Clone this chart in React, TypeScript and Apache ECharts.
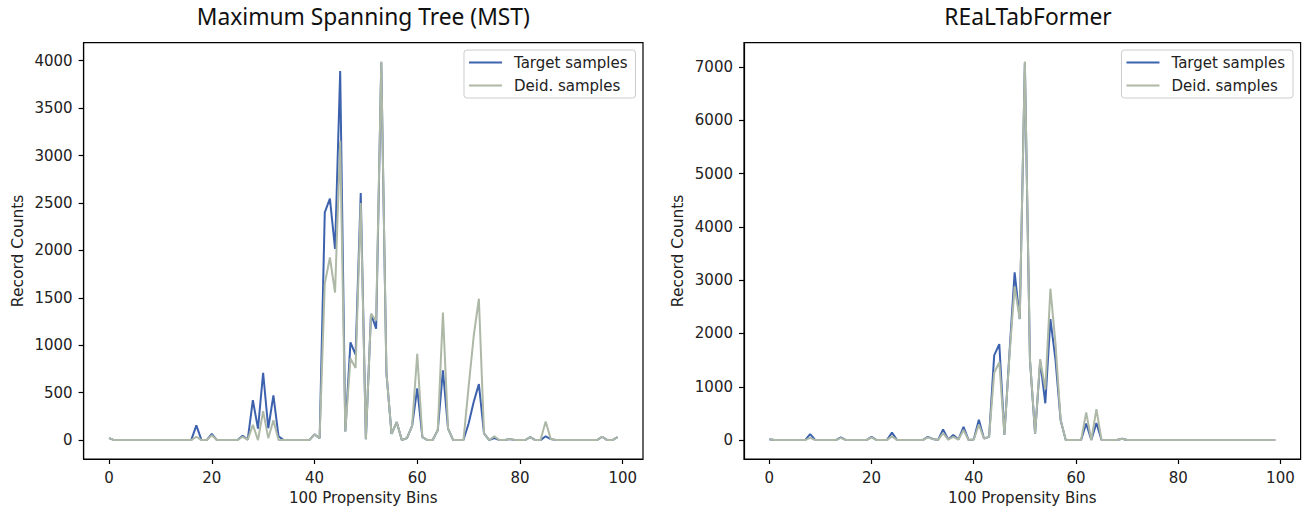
import React, { useEffect, useRef } from "react";
import * as echarts from "echarts";

// 100 propensity bins (0..99)
const BINS: number[] = Array.from({ length: 100 }, (_, i) => i);

const X_TICKS = [0, 20, 40, 60, 80, 100];
const MST_Y_TICKS = [0, 500, 1000, 1500, 2000, 2500, 3000, 3500, 4000];
const RTF_Y_TICKS = [0, 1000, 2000, 3000, 4000, 5000, 6000, 7000];

const TITLES = ["Maximum Spanning Tree (MST)", "REaLTabFormer"];
const SERIES_NAMES = ["Target samples", "Deid. samples"];

// Maximum Spanning Tree (MST) — bins 0..99
const MST_TARGET = [
  20, 0, 0, 0, 0, 0, 0, 0, 0, 0,
  0, 0, 0, 0, 0, 0, 0, 155, 0, 0,
  65, 0, 0, 0, 0, 0, 45, 5, 420, 120,
  710, 125, 470, 40, 0, 0, 0, 0, 0, 0,
  60, 20, 2400, 2545, 2015, 3890, 90, 1030, 900, 2605,
  10, 1330, 1175, 3980, 710, 65, 190, 0, 20, 150,
  545, 30, 0, 0, 105, 735, 120, 0, 0, 0,
  175, 405, 590, 70, 0, 20, 0, 0, 10, 0,
  0, 0, 30, 0, 0, 40, 10, 0, 0, 0,
  0, 0, 0, 0, 0, 0, 35, 0, 0, 30,
];
const MST_DEID = [
  20, 0, 0, 0, 0, 0, 0, 0, 0, 0,
  0, 0, 0, 0, 0, 0, 0, 35, 0, 0,
  50, 0, 0, 0, 0, 0, 35, 5, 160, 0,
  305, 20, 210, 0, 0, 0, 0, 0, 0, 0,
  60, 20, 1650, 1925, 1555, 3155, 90, 860, 760, 2500,
  10, 1330, 1260, 3990, 710, 65, 190, 0, 20, 150,
  910, 30, 0, 0, 105, 1345, 120, 0, 0, 0,
  560, 1100, 1490, 70, 0, 40, 0, 0, 10, 0,
  0, 0, 30, 0, 0, 195, 10, 0, 0, 0,
  0, 0, 0, 0, 0, 0, 35, 0, 0, 30,
];

// REaLTabFormer — bins 0..99
const RTF_TARGET = [
  15, 0, 0, 0, 0, 0, 0, 0, 110, 0,
  0, 0, 0, 0, 50, 0, 0, 0, 0, 0,
  60, 0, 0, 0, 140, 0, 0, 0, 0, 0,
  0, 60, 20, 0, 200, 10, 95, 10, 250, 0,
  10, 380, 30, 60, 1590, 1800, 100, 1650, 3145, 2270,
  7080, 1500, 120, 1480, 690, 2270, 1500, 370, 0, 0,
  0, 0, 310, 0, 320, 0, 0, 0, 0, 25,
  0, 0, 0, 0, 0, 0, 0, 0, 0, 0,
  0, 0, 0, 0, 0, 0, 0, 0, 0, 0,
  0, 0, 0, 0, 0, 0, 0, 0, 0, 0,
];
const RTF_DEID = [
  15, 0, 0, 0, 0, 0, 0, 0, 40, 0,
  0, 0, 0, 0, 40, 0, 0, 0, 0, 0,
  50, 0, 0, 0, 70, 0, 0, 0, 0, 0,
  0, 50, 20, 0, 130, 10, 60, 10, 190, 0,
  10, 290, 30, 60, 1260, 1460, 100, 1600, 2880, 2270,
  7100, 1520, 120, 1520, 950, 2840, 1800, 380, 0, 0,
  0, 0, 520, 0, 580, 0, 0, 0, 0, 25,
  0, 0, 0, 0, 0, 0, 0, 0, 0, 0,
  0, 0, 0, 0, 0, 0, 0, 0, 0, 0,
  0, 0, 0, 0, 0, 0, 0, 0, 0, 0,
];

const BLUE = "#3d62ad";
const GREY = "#adb8a6";
const TXT = "#222";
const FONT = "DejaVu Sans";

export default function App() {
  const ref = useRef<HTMLDivElement>(null);

  useEffect(() => {
    if (!ref.current) return;
    const chart = echarts.init(ref.current, undefined, { renderer: "svg" });

    const grids = [
      { left: 83.6, top: 42.7, width: 559.4, height: 416.3 },
      { left: 744, top: 42.7, width: 556.6, height: 416.3 },
    ];
    const yRanges = [
      { min: -199.5, max: 4189.5, ticks: MST_Y_TICKS },
      { min: -355, max: 7455, ticks: RTF_Y_TICKS },
    ];

    const axisCommon = {
      axisLine: { show: true, onZero: false, lineStyle: { color: "#000", width: 1.2 } },
      axisTick: { show: true, length: 5, lineStyle: { color: "#000", width: 1.2 } },
      splitLine: { show: false },
      nameTextStyle: { fontFamily: FONT, fontSize: 15, color: TXT },
    };
    const plain = (v: number) => String(v);

    const xAxes = grids.map((_, i) => ({
      type: "value",
      gridIndex: i,
      min: -4.95,
      max: 103.95,
      name: "100 Propensity Bins",
      nameLocation: "middle",
      nameGap: 31,
      ...axisCommon,
      axisTick: { ...axisCommon.axisTick, customValues: X_TICKS },
      axisLabel: { customValues: X_TICKS, formatter: plain, fontFamily: FONT, fontSize: 15, color: TXT, margin: 11 },
    }));

    const yAxes = grids.map((_, i) => ({
      type: "value",
      gridIndex: i,
      min: yRanges[i].min,
      max: yRanges[i].max,
      name: "Record Counts",
      nameLocation: "middle",
      nameGap: 58,
      ...axisCommon,
      nameTextStyle: { fontFamily: FONT, fontSize: 15.5, color: TXT },
      axisTick: { ...axisCommon.axisTick, customValues: yRanges[i].ticks },
      axisLabel: { customValues: yRanges[i].ticks, formatter: plain, fontFamily: FONT, fontSize: 15, color: TXT, margin: 11 },
    }));

    const pairs = (vals: number[]) => BINS.map((b, i) => [b, vals[i]]);
    const mk = (name: string, vals: number[], color: string, idx: number, z: number) => ({
      type: "line",
      name,
      xAxisIndex: idx,
      yAxisIndex: idx,
      data: pairs(vals),
      symbol: "none",
      color,
      lineStyle: { color, width: 2 },
      z,
    });

    const legendBase = {
      orient: "vertical",
      top: 50,
      icon: "rect",
      itemWidth: 33,
      itemHeight: 2,
      itemGap: 6,
      padding: [4, 8, 4, 5],
      borderColor: "#ccc",
      borderWidth: 1,
      borderRadius: 3,
      backgroundColor: "rgba(255,255,255,0.85)",
      selectedMode: false,
      data: SERIES_NAMES,
      textStyle: { fontFamily: FONT, fontSize: 15, color: TXT, lineHeight: 17, padding: [0, 0, 0, 7] },
    };

    const titleStyle = { fontFamily: "Noto Sans", fontSize: 22.8, fontWeight: "normal", color: "#111" };

    chart.setOption({
      animation: false,
      backgroundColor: "#fff",
      title: [
        { text: TITLES[0], left: 363.3, top: 5, padding: 0, textAlign: "center", textStyle: titleStyle },
        { text: TITLES[1], left: 1028, top: 5, padding: 0, textAlign: "center", textStyle: titleStyle },
      ],
      legend: [
        { ...legendBase, right: 671.5 },
        { ...legendBase, right: 14 },
      ],
      grid: grids.map((g) => ({ ...g, show: true, borderColor: "#000", borderWidth: 1.2, backgroundColor: "transparent" })),
      xAxis: xAxes,
      yAxis: yAxes,
      series: [
        mk(SERIES_NAMES[0], MST_TARGET, BLUE, 0, 2),
        mk(SERIES_NAMES[1], MST_DEID, GREY, 0, 3),
        mk(SERIES_NAMES[0], RTF_TARGET, BLUE, 1, 2),
        mk(SERIES_NAMES[1], RTF_DEID, GREY, 1, 3),
      ],
    });

    return () => chart.dispose();
  }, []);

  return (
    <div
      ref={ref}
      style={{ position: "fixed", left: 0, top: 0, width: 1307, height: 512, background: "#fff" }}
    />
  );
}
